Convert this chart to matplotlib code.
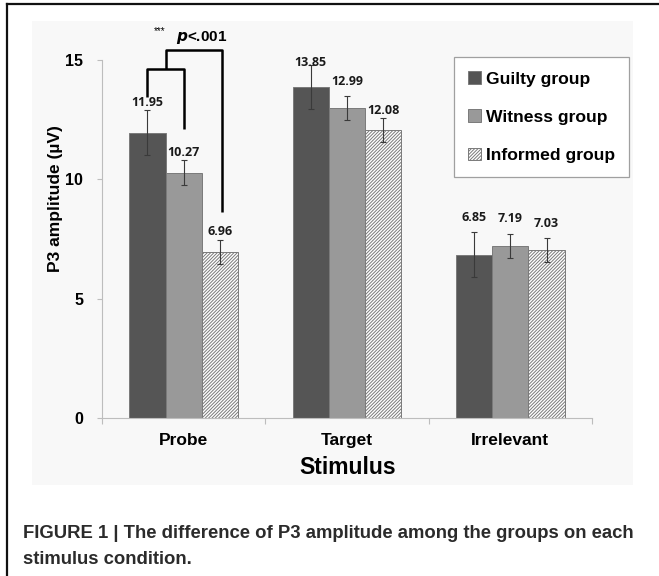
import matplotlib.pyplot as plt
import matplotlib.patches as mpatches
import numpy as np

plt.rcParams['font.family'] = ['Liberation Sans', 'DejaVu Sans']
plt.rcParams['hatch.color'] = '#6e6e6e'
plt.rcParams['hatch.linewidth'] = 0.7

stimuli = ['Probe', 'Target', 'Irrelevant']
groups = ['Guilty group', 'Witness group', 'Informed group']
guilty = [11.95, 13.85, 6.85]
witness = [10.27, 12.99, 7.19]
informed = [6.96, 12.08, 7.03]
guilty_err = [0.95, 0.92, 0.93]
witness_err = [0.52, 0.50, 0.50]
informed_err = [0.51, 0.50, 0.51]

values = [guilty, witness, informed]
errors = [guilty_err, witness_err, informed_err]
colors = ['#555555', '#999999', 'white']
hatches = [None, None, '//////////']
# extra gap between error bar top and value label (hand placed in original)
label_gap = [[0.30, 0.14, 0.60], [0.32, 0.62, 0.68], [0.33, 0.30, 0.60]]

fig = plt.figure(figsize=(6.59, 5.76), dpi=100)

# light grey panel behind the chart + page frame
fig.patches.append(mpatches.Rectangle((32 / 659, 1 - 485 / 576), 601 / 659, 464 / 576,
                                      transform=fig.transFigure, facecolor='#f8f8f8',
                                      edgecolor='none', zorder=-5))
fig.add_artist(plt.Line2D([6.5 / 659, 6.5 / 659], [0, 1 - 4 / 576], transform=fig.transFigure,
                          color='#111111', lw=1.6))
fig.add_artist(plt.Line2D([6.5 / 659, 1], [1 - 4 / 576, 1 - 4 / 576], transform=fig.transFigure,
                          color='#111111', lw=1.6))

ax = fig.add_axes([102 / 659, 158 / 576, 490 / 659, 358 / 576])
ax.set_facecolor('none')
ax.set_zorder(2)

x = np.arange(len(stimuli))
w = 0.222
handles = []
for j in range(3):
    pos = x + (j - 1) * w
    b = ax.bar(pos, values[j], w, color=colors[j], hatch=hatches[j],
               edgecolor='#7a7a7a', linewidth=0.7, label=groups[j], zorder=2)
    handles.append(b)
    ax.errorbar(pos, values[j], yerr=errors[j], fmt='none', ecolor='#3a3a3a',
                elinewidth=0.8, capsize=2.5, capthick=0.8, zorder=3)
    for i in range(3):
        ax.text(pos[i], values[j][i] + errors[j][i] + label_gap[j][i], f'{values[j][i]:.2f}',
                ha='center', va='center', fontsize=9, fontweight='bold',
                family=['Open Sans', 'DejaVu Sans'], color='#1a1a1a', zorder=4)

ax.set_xlim(-0.5, 2.5)
ax.set_ylim(0, 15)
ax.set_yticks([0, 5, 10, 15])
ax.set_xticks(x)
ax.set_xticklabels(stimuli)
ax.set_xticks([-0.5, 0.5, 1.5, 2.5], minor=True)
ax.tick_params(axis='x', which='major', length=0, pad=10.5, labelsize=12.5)
ax.tick_params(axis='x', which='minor', length=4, color='#bdbdbd', width=0.8)
ax.tick_params(axis='y', length=3.6, color='#bdbdbd', width=0.8, pad=10, labelsize=11.5)
for lab in ax.get_xticklabels() + ax.get_yticklabels():
    lab.set_fontweight('bold')
for s in ['top', 'right']:
    ax.spines[s].set_visible(False)
ax.spines['left'].set_color('#bdbdbd')
ax.spines['bottom'].set_color('#bdbdbd')
ax.spines['left'].set_linewidth(0.8)
ax.spines['bottom'].set_linewidth(0.8)

# significance bracket
bk = dict(color='black', lw=1.8, clip_on=False, zorder=5, solid_capstyle='butt')
ax.plot([-w, -w, 0, 0], [13.45, 14.62, 14.62, 12.11], **bk)
ax.plot([-w / 2, -w / 2, 0.234, 0.234], [14.62, 15.41, 15.41, 8.62], **bk)
ax.text(-0.145, 16.2, '***', fontsize=7, ha='center', va='center', clip_on=False)
ax.text(0.11, 15.96, r'$\boldsymbol{p}$<.001', fontsize=11, fontweight='bold',
        ha='center', va='center', clip_on=False)

fig.text(55.5 / 659, 1 - 198.5 / 576, 'P3 amplitude (µV)', rotation=90, ha='center', va='center',
         fontsize=12.5, fontweight='bold')
fig.text(347.5 / 659, 1 - 467 / 576, 'Stimulus', ha='center', va='center',
         fontsize=16.5, fontweight='bold')

leg = ax.legend(handles=handles, loc='upper left', bbox_to_anchor=(454 / 659, 1 - 57 / 576),
                bbox_transform=fig.transFigure, fancybox=False, framealpha=1,
                edgecolor='#a0a0a0', prop={'weight': 'bold', 'size': 12.6},
                handlelength=0.75, handleheight=0.75, handletextpad=0.25,
                labelspacing=1.3, borderpad=0.8, borderaxespad=0)
leg.get_frame().set_linewidth(0.9)

fig.text(23 / 659, 1 - 533 / 576, 'FIGURE 1 | The difference of P3 amplitude among the groups on each',
         ha='left', va='center', fontsize=13.35, fontweight='bold', color='#2b2b2b')
fig.text(23 / 659, 1 - 559 / 576, 'stimulus condition.',
         ha='left', va='center', fontsize=13.35, fontweight='bold', color='#2b2b2b')

fig.savefig('out.png', dpi=100)
